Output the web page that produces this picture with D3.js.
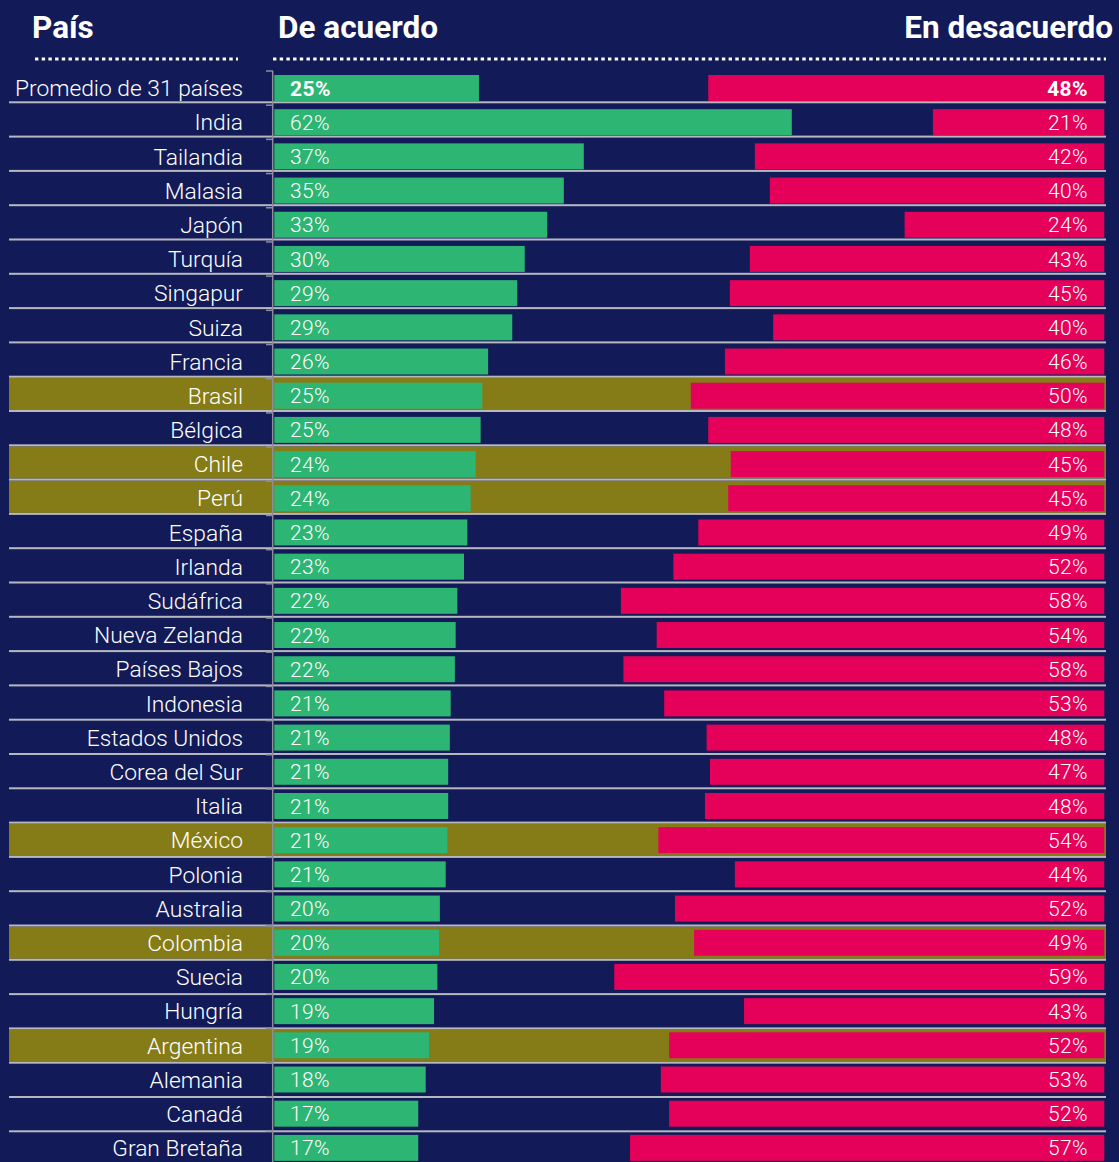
<!DOCTYPE html>
<html>
<head>
<meta charset="utf-8">
<script src="https://cdn.jsdelivr.net/npm/d3@7"></script>
<style>
  html, body { margin: 0; padding: 0; background: #121b58; }
  svg { display: block; }
  text { font-family: Roboto, "Noto Sans", sans-serif; fill: #fff; }
</style>
</head>
<body>
<svg id="chart"></svg>
<script>
// datos
const countries = ["Promedio de 31 países", "India", "Tailandia", "Malasia", "Japón", "Turquía",
  "Singapur", "Suiza", "Francia", "Brasil", "Bélgica", "Chile", "Perú", "España", "Irlanda",
  "Sudáfrica", "Nueva Zelanda", "Países Bajos", "Indonesia", "Estados Unidos", "Corea del Sur",
  "Italia", "México", "Polonia", "Australia", "Colombia", "Suecia", "Hungría", "Argentina",
  "Alemania", "Canadá", "Gran Bretaña"];

const agree = [24.6, 62.2, 37.2, 34.8, 32.8, 30.1, 29.2, 28.6, 25.7, 25.0, 24.8, 24.2, 23.6, 23.2,
  22.8, 22.0, 21.8, 21.7, 21.2, 21.1, 20.9, 20.9, 20.8, 20.6, 19.9, 19.8, 19.6, 19.2, 18.6, 18.2,
  17.3, 17.3];

const disagree = [47.6, 20.6, 42.0, 40.2, 24.0, 42.6, 45.0, 39.8, 45.6, 49.7, 47.6, 44.9, 45.2, 48.8,
  51.8, 58.1, 53.8, 57.8, 52.9, 47.8, 47.4, 48.0, 53.6, 44.4, 51.6, 49.3, 58.9, 43.3, 52.3, 53.3,
  52.3, 57.0];

const highlighted = ["Brasil", "Chile", "Perú", "México", "Colombia", "Argentina"];
const headers = ["País", "De acuerdo", "En desacuerdo"];

const W = 1119, H = 1162;
const bg = "#121b58", green = "#2db574", red = "#e5005a", olive = "#857c17", lineGray = "#b7b7c0";

const svg = d3.select("#chart").attr("width", W).attr("height", H);
svg.append("rect").attr("width", W).attr("height", H).attr("fill", bg);

const rows = countries.map((c, i) => ({ name: c, agree: agree[i], disagree: disagree[i], i: i }));

const y = d3.scaleBand()
  .domain(countries)
  .range([75, 75 + 34.19 * (countries.length - 0.24)])
  .paddingInner(0.24)
  .paddingOuter(0);

const xG = d3.scaleLinear().domain([0, 100]).range([274.3, 274.3 + 832]);
const xR = d3.scaleLinear().domain([0, 100]).range([1104.3, 1104.3 - 832]);

// separadores de filas (tienen un paso un poco mayor que las barras)
const lineY = i => 102.3 + i * 34.3;

// bandas resaltadas
svg.append("g").selectAll("rect")
  .data(rows.filter(d => highlighted.includes(d.name)))
  .join("rect")
  .attr("x", 9)
  .attr("width", 1106 - 9)
  .attr("y", d => lineY(d.i - 1) + 1)
  .attr("height", d => lineY(d.i) - lineY(d.i - 1) - 2)
  .attr("fill", olive);

// barras verdes
svg.append("g").selectAll("rect")
  .data(rows)
  .join("rect")
  .attr("x", xG(0))
  .attr("y", d => y(d.name))
  .attr("width", d => xG(d.agree) - xG(0))
  .attr("height", y.bandwidth())
  .attr("fill", green);

// barras rojas
svg.append("g").selectAll("rect")
  .data(rows)
  .join("rect")
  .attr("x", d => xR(d.disagree))
  .attr("y", d => y(d.name))
  .attr("width", d => xR(0) - xR(d.disagree))
  .attr("height", y.bandwidth())
  .attr("fill", red);

// lineas separadoras
svg.append("g").selectAll("rect")
  .data(rows.slice(0, rows.length - 1))
  .join("rect")
  .attr("x", 9)
  .attr("width", 1106 - 9)
  .attr("y", d => lineY(d.i) - 1)
  .attr("height", 2)
  .attr("fill", lineGray);

// eje vertical con ticks en los limites de cada fila
const axisG = svg.append("g");
axisG.append("line")
  .attr("x1", 272.7).attr("x2", 272.7)
  .attr("y1", 71).attr("y2", H)
  .attr("stroke", "#8e8e9a").attr("stroke-width", 1.5);
axisG.selectAll(".tick")
  .data(countries)
  .join("line")
  .attr("class", "tick")
  .attr("x1", 266).attr("x2", 273)
  .attr("y1", d => y(d) - 4).attr("y2", d => y(d) - 4)
  .attr("stroke", "#8e8e9a").attr("stroke-width", 1.5);

// etiquetas de pais
svg.append("g").selectAll("text")
  .data(rows)
  .join("text")
  .attr("x", 243)
  .attr("y", d => y(d.name) + y.bandwidth() / 2)
  .attr("dy", "0.36em")
  .attr("text-anchor", "end")
  .attr("font-size", 22.8)
  .attr("font-weight", 300)
  .text(d => d.name);

const fmt = v => Math.round(v) + "%";

svg.append("g").selectAll("text")
  .data(rows)
  .join("text")
  .attr("x", 290)
  .attr("y", d => y(d.name) + y.bandwidth() / 2)
  .attr("dy", "0.36em")
  .attr("font-size", 21)
  .attr("letter-spacing", 0.4)
  .attr("font-weight", d => d.i === 0 ? 700 : 300)
  .text(d => fmt(d.agree));

svg.append("g").selectAll("text")
  .data(rows)
  .join("text")
  .attr("x", 1088)
  .attr("y", d => y(d.name) + y.bandwidth() / 2)
  .attr("dy", "0.36em")
  .attr("text-anchor", "end")
  .attr("font-size", 21)
  .attr("letter-spacing", 0.4)
  .attr("font-weight", d => d.i === 0 ? 700 : 300)
  .text(d => fmt(d.disagree));

// encabezados
const head = svg.append("g").attr("font-weight", 700).attr("font-size", 31.5);
head.append("text").attr("x", 32).attr("y", 38).attr("font-weight", 700).text(headers[0]);
head.append("text").attr("x", 278).attr("y", 38).attr("font-weight", 700).text(headers[1]);
head.append("text").attr("x", 1113).attr("y", 38).attr("text-anchor", "end").attr("font-weight", 700).text(headers[2]);

[[35, 238], [273, 1106]].forEach(([a, b]) => {
  svg.append("line")
    .attr("x1", a).attr("x2", b)
    .attr("y1", 59).attr("y2", 59)
    .attr("stroke", "#fff")
    .attr("stroke-width", 3)
    .attr("stroke-dasharray", "3.4,3.3");
});
</script>
</body>
</html>
